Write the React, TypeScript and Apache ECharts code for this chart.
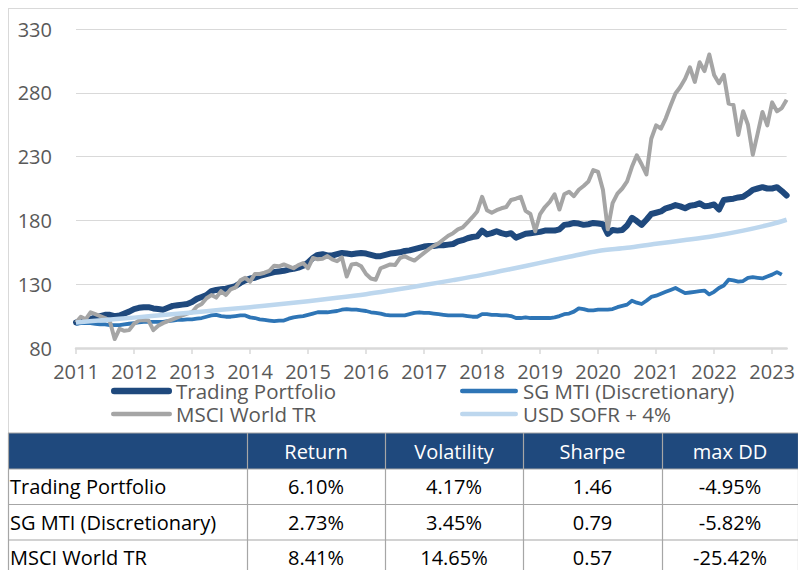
import React, { useEffect, useRef } from "react";
import * as echarts from "echarts";

// ---------- data ----------
const START_YEAR = 2011;
const yearTicks = [2011, 2012, 2013, 2014, 2015, 2016, 2017, 2018, 2019, 2020, 2021, 2022, 2023];

// monthly values, first point at the start of 2011
const tradingPortfolio = [
  100, 100.5, 101, 102.5, 104, 105, 106, 106, 105, 105.5, 107, 108.5,
  110.5, 111.5, 112, 112, 111, 110.5, 110, 111.5, 113, 113.5, 114, 114.5,
  116, 118.5, 120, 121.5, 124.5, 125.5, 126, 126.5, 127.5, 128.5, 131, 133,
  134.5, 135, 136.5, 137.5, 138.5, 139.5, 140, 140.5, 141.5, 142, 143, 144.5,
  147, 150.5, 153, 153.5, 152.5, 152.5, 153.5, 154.5, 154, 153.5, 154, 154.5,
  154, 153, 152, 152, 153, 154, 154.5, 155, 156, 156.5, 157.5, 158.5,
  159.5, 160, 160, 160.5, 160.5, 161, 161.5, 163.5, 164.5, 166, 167, 167.5,
  172, 169, 170, 171.5, 170, 169, 170, 166.5, 168, 169.5, 170, 170.5,
  171, 172, 172, 172, 173, 176.5, 177, 178, 177.5, 176.5, 177, 178,
  177.5, 177, 169.5, 172.5, 172, 172.5, 176, 182, 179.5, 176.5, 180.5, 185,
  186, 187, 189.5, 190.5, 192, 191, 189.5, 191.5, 192, 193.5, 191, 191.5,
  192.5, 188.5, 196, 196.5, 197, 198, 198.5, 201, 204, 205, 206, 205,
  205, 206, 203, 199.5,
];

const sgMti = [
  99, 99.5, 99.5, 99.5, 99, 98.5, 98.5, 98, 98, 98, 98.5, 99,
  99.5, 100, 100.5, 100.5, 100.5, 100.5, 100.5, 101, 101.5, 102, 102, 102.5,
  102.5, 103, 103.5, 104.5, 105.5, 106, 105, 104.5, 104.5, 105, 105.5, 105.5,
  104, 103.5, 102.5, 102, 101.5, 101, 101.5, 101.5, 103, 104, 104.5, 105,
  106, 107, 108, 108, 108, 108.5, 109, 110, 110.5, 110, 110, 109.5,
  109, 108, 107.5, 107, 106, 105.5, 105.5, 105.5, 105.5, 106.5, 107.5, 108,
  107.5, 107.5, 107, 106.5, 106, 105.5, 105.5, 105.5, 105.5, 105, 104.5, 104.5,
  106.5, 106.5, 106, 106, 105.5, 105.5, 105, 103.5, 103.5, 104, 103.5, 103.5,
  103.5, 103.5, 103.5, 104, 105, 106.5, 107, 108.5, 111, 110.5, 109.5, 109.5,
  110, 110, 110, 110.5, 112, 113, 114, 117, 115.5, 114.5, 117, 120,
  121, 122.5, 124, 125.5, 127, 125, 123, 123.5, 124, 124.5, 125, 122,
  124, 127, 129, 133.5, 133, 132, 132.5, 135, 135.5, 135, 134.5, 136,
  137.5, 139.5, 137.5, null,
];

const msciWorld = [
  100, 104.5, 102.5, 108, 106.5, 105, 103.5, 101, 87, 95, 93.5, 94,
  99, 101.5, 102, 101.5, 94, 97.5, 99.5, 101, 102.5, 104, 105.5, 107,
  108, 112.5, 114.5, 119, 121.5, 119.5, 124.5, 121.5, 126, 127.5, 133, 135,
  132, 138, 138, 139, 140.5, 144.5, 144, 145.5, 144, 142.5, 145, 146.5,
  142.5, 150.5, 149.5, 150, 152, 149.5, 148, 151, 136, 145.5, 146, 144,
  138, 134.5, 133.5, 142.5, 144, 145.5, 145, 150.5, 152, 150, 148.5, 151.5,
  154.5, 157.5, 160, 162, 165, 168, 170, 173, 174.5, 178.5, 182.5, 187,
  198.5, 188, 186, 188, 189.5, 190.5, 196, 197, 198.5, 187.5, 185, 171.5,
  185, 190.5, 194.5, 200.5, 188.5, 200.5, 202.5, 199, 204, 207, 210.5, 219.5,
  218, 204, 173, 193.5, 201, 205, 210.5, 222, 231, 224, 216, 244,
  254.5, 252, 260, 270, 279.5, 284.5, 291, 300, 288.5, 304, 297, 310,
  294, 287.5, 294, 271.5, 270.5, 247, 265.5, 255, 231.5, 248, 265, 254.5,
  272.5, 265.5, 268, 274.5,
];

// half-yearly readings of the smooth cash benchmark
const sofrDates = [
  2011, 2011.5, 2012, 2012.5, 2013, 2013.5, 2014, 2014.5, 2015, 2015.5, 2016, 2016.5, 2017,
  2017.5, 2018, 2018.5, 2019, 2019.5, 2020, 2020.5, 2021, 2021.5, 2022, 2022.5, 2023, 2023.25,
];
const sofrPlus4 = [
  100, 101.9, 103.8, 105.8, 107.8, 109.9, 112, 114.3, 116.7, 119.3, 122.2, 125.7, 129.3,
  133.2, 137.3, 141.9, 146.7, 151.5, 156, 158.5, 161.7, 164.6, 167.8, 172, 177.2, 180.5,
];

const seriesNames = ["Trading Portfolio", "SG MTI (Discretionary)", "MSCI World TR", "USD SOFR + 4%"];

// statistics table
const tableHeader = ["", "Return", "Volatility", "Sharpe", "max DD"];
const tableRowNames = ["Trading Portfolio", "SG MTI (Discretionary)", "MSCI World TR"];
const returns = ["6.10%", "2.73%", "8.41%"];
const volatility = ["4.17%", "3.45%", "14.65%"];
const sharpe = ["1.46", "0.79", "0.57"];
const maxDD = ["-4.95%", "-5.82%", "-25.42%"];

// ---------- styling ----------
const COLORS = ["#1F497D", "#2E75B6", "#A5A5A5", "#BDD7EE"];
const WIDTHS = [6, 3.8, 4, 4.5];
const LEGEND_WIDTHS = [6.5, 4.5, 4.5, 4.5];
const FONT = '"Open Sans", "Noto Sans", sans-serif';
const TEXT_GREY = "#595959";
const HEADER_BLUE = "#1F497D";
const TABLE_BORDER = "#A6A6A6";

const monthly = (arr: (number | null)[]) =>
  arr.map((v, k) => [START_YEAR + k / 12, v]);

export default function App() {
  const ref = useRef<HTMLDivElement>(null);

  useEffect(() => {
    if (!ref.current) return;
    const chart = echarts.init(ref.current, undefined, { renderer: "svg" });

    const seriesData = [
      monthly(tradingPortfolio),
      monthly(sgMti),
      monthly(msciWorld),
      sofrDates.map((d, i) => [d, sofrPlus4[i]]),
    ];

    const series = seriesNames.map((name, i) => ({
      name,
      type: "line",
      data: seriesData[i],
      showSymbol: false,
      symbol: "none",
      silent: true,
      smooth: i === 3 ? 0.3 : false,
      connectNulls: false,
      lineStyle: {
        color: COLORS[i],
        width: WIDTHS[i],
        cap: i === 0 ? "round" : "butt",
        join: "round",
      },
      emphasis: { disabled: true },
      z: 2 + i,
    }));

    // ---- legend (drawn as graphic) ----
    const legendIconX = [111, 460];
    const legendIconLen = [61, 58];
    const legendTextX = [176, 523];
    const legendRowY = [391, 414];
    const legendEls: any[] = [];
    seriesNames.forEach((name, i) => {
      const col = i % 2;
      const row = Math.floor(i / 2);
      const w = LEGEND_WIDTHS[i];
      legendEls.push({
        type: "line",
        silent: true,
        shape: {
          x1: legendIconX[col] + w / 2,
          y1: legendRowY[row],
          x2: legendIconX[col] + legendIconLen[col] - w / 2,
          y2: legendRowY[row],
        },
        style: { stroke: COLORS[i], lineWidth: w, lineCap: "round" },
      });
      legendEls.push({
        type: "text",
        silent: true,
        x: legendTextX[col],
        y: legendRowY[row],
        style: {
          text: name,
          fill: TEXT_GREY,
          font: `20.5px ${FONT}`,
          lineHeight: 19,
          align: "left",
          verticalAlign: "middle",
        },
      });
    });

    // ---- frame ----
    const frameEls: any[] = [
      { type: "line", silent: true, shape: { x1: 8, y1: 8.5, x2: 798, y2: 8.5 }, style: { stroke: "#D9D9D9", lineWidth: 1 } },
      { type: "line", silent: true, shape: { x1: 8.5, y1: 8, x2: 8.5, y2: 433 }, style: { stroke: "#D9D9D9", lineWidth: 1 } },
    ];

    // ---- table ----
    const colEdges = [8, 247, 385, 523, 662, 798];
    const rowEdges = [433, 469, 504.5, 540, 575.5];
    const tableEls: any[] = [];
    tableEls.push({
      type: "rect",
      silent: true,
      shape: { x: colEdges[0], y: rowEdges[0], width: colEdges[5] - colEdges[0], height: rowEdges[1] - rowEdges[0] },
      style: { fill: HEADER_BLUE },
    });
    rowEdges.forEach((y) => {
      tableEls.push({
        type: "line",
        silent: true,
        shape: { x1: colEdges[0], y1: y, x2: colEdges[5], y2: y },
        style: { stroke: TABLE_BORDER, lineWidth: 1.2 },
      });
    });
    colEdges.forEach((x) => {
      tableEls.push({
        type: "line",
        silent: true,
        shape: { x1: x + 0.5, y1: rowEdges[0], x2: x + 0.5, y2: rowEdges[4] },
        style: { stroke: TABLE_BORDER, lineWidth: 1.2 },
      });
    });
    tableHeader.forEach((h, c) => {
      if (!h) return;
      tableEls.push({
        type: "text",
        silent: true,
        x: (colEdges[c] + colEdges[c + 1]) / 2,
        y: (rowEdges[0] + rowEdges[1]) / 2,
        style: { text: h, fill: "#FFFFFF", font: `20px ${FONT}`, lineHeight: 22, align: "center", verticalAlign: "middle" },
      });
    });
    const bodyCols = [tableRowNames, returns, volatility, sharpe, maxDD];
    tableRowNames.forEach((_, r) => {
      const cy = (rowEdges[r + 1] + rowEdges[r + 2]) / 2;
      bodyCols.forEach((col, c) => {
        tableEls.push({
          type: "text",
          silent: true,
          x: c === 0 ? colEdges[0] + 2 : (colEdges[c] + colEdges[c + 1]) / 2,
          y: cy,
          style: {
            text: col[r],
            fill: "#000000",
            font: `20px ${FONT}`,
            lineHeight: 22,
            align: c === 0 ? "left" : "center",
            verticalAlign: "middle",
          },
        });
      });
    });

    chart.setOption({
      animation: false,
      backgroundColor: "#FFFFFF",
      textStyle: { fontFamily: FONT },
      grid: { left: 76, right: 8, top: 29, bottom: 222, containLabel: false },
      xAxis: {
        type: "value",
        min: START_YEAR,
        max: START_YEAR + (tradingPortfolio.length - 1) / 12,
        axisLine: { show: true, lineStyle: { color: "#D9D9D9", width: 2.5 } },
        axisTick: {
          show: true,
          customValues: yearTicks,
          length: 6,
          lineStyle: { color: "#D9D9D9", width: 1.5 },
        },
        axisLabel: {
          customValues: yearTicks,
          formatter: (v: number) => String(Math.round(v)),
          color: TEXT_GREY,
          fontSize: 20,
          lineHeight: 18,
          fontFamily: FONT,
          margin: 14,
        },
        splitLine: { show: false },
      },
      yAxis: {
        type: "value",
        min: 80,
        max: 330,
        interval: 50,
        axisLine: { show: false },
        axisTick: { show: false },
        axisLabel: { color: TEXT_GREY, fontSize: 20, lineHeight: 20, fontFamily: FONT, margin: 24 },
        splitLine: { lineStyle: { color: "#D9D9D9", width: 1 } },
      },
      series,
      graphic: [...frameEls, ...legendEls, ...tableEls],
    });

    return () => chart.dispose();
  }, []);

  return (
    <div
      ref={ref}
      style={{ position: "fixed", left: 0, top: 0, width: 798, height: 570 }}
    />
  );
}
